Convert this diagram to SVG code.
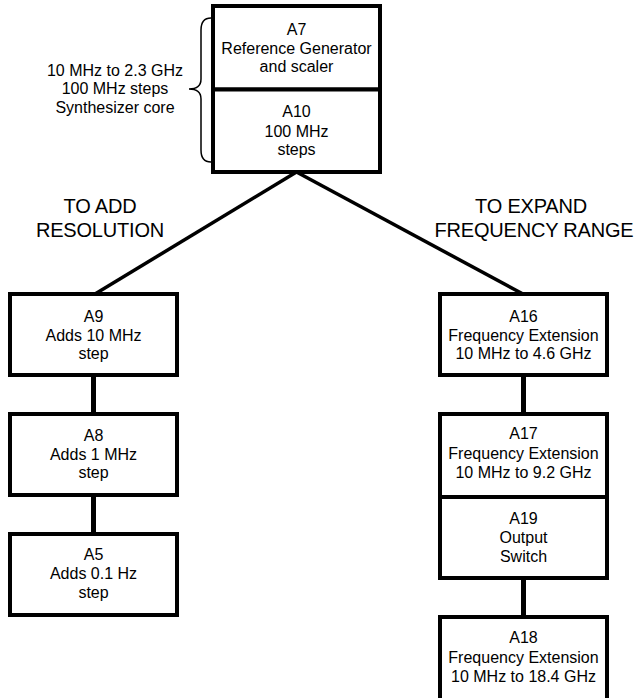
<svg xmlns="http://www.w3.org/2000/svg" width="636" height="698" viewBox="0 0 636 698">
<style>
.box{fill:#fff;stroke:#000;stroke-width:4}
.t{font-family:"Liberation Sans",Arial,sans-serif;font-size:16px;fill:#000;text-anchor:middle}
.h{font-family:"Liberation Sans",Arial,sans-serif;font-size:20px;fill:#000;text-anchor:middle;letter-spacing:-0.2px}
.diag{stroke:#000;stroke-width:3.5;fill:none}
.vert{stroke:#000;stroke-width:5;fill:none}
.brace{stroke:#000;stroke-width:1.5;fill:none}
</style>
<rect width="636" height="698" fill="#fff"/>
<g id="connectors">
<line class="diag" x1="296.5" y1="172" x2="95" y2="294"/>
<line class="diag" x1="296.5" y1="172" x2="523" y2="294"/>
<line class="vert" x1="93.5" y1="375" x2="93.5" y2="414"/>
<line class="vert" x1="93.5" y1="495" x2="93.5" y2="534"/>
<line class="vert" x1="523.5" y1="375" x2="523.5" y2="414"/>
<line class="vert" x1="523.5" y1="578" x2="523.5" y2="617"/>
</g>
<g id="core-label">
<path class="brace" d="M211 18 Q201 18 201 30 L201 79 Q201 89 189 89 Q201 89 201 99 L201 150 Q201 162 211 162"/>
<text class="t" x="115" y="76">10 MHz to 2.3 GHz</text>
<text class="t" x="115" y="94">100 MHz steps</text>
<text class="t" x="115" y="113">Synthesizer core</text>
</g>
<g id="A7">
<rect class="box" x="213" y="6" width="167" height="83.5"/>
<text class="t" x="296.5" y="35">A7</text>
<text class="t" x="296.5" y="54">Reference Generator</text>
<text class="t" x="296.5" y="72">and scaler</text>
</g>
<g id="A10">
<rect class="box" x="213" y="89.5" width="167" height="82.5"/>
<text class="t" x="296.5" y="117">A10</text>
<text class="t" x="296.5" y="137">100 MHz</text>
<text class="t" x="296.5" y="155">steps</text>
</g>
<g id="label-resolution">
<text class="h" x="100" y="213">TO ADD</text>
<text class="h" x="100" y="237">RESOLUTION</text>
</g>
<g id="label-range">
<text class="h" x="531" y="213">TO EXPAND</text>
<text class="h" x="534" y="237">FREQUENCY RANGE</text>
</g>
<g id="A9">
<rect class="box" x="10" y="294" width="167" height="81"/>
<text class="t" x="93.5" y="322">A9</text>
<text class="t" x="93.5" y="341">Adds 10 MHz</text>
<text class="t" x="93.5" y="359">step</text>
</g>
<g id="A8">
<rect class="box" x="10" y="414" width="167" height="81"/>
<text class="t" x="93.5" y="441">A8</text>
<text class="t" x="93.5" y="460">Adds 1 MHz</text>
<text class="t" x="93.5" y="478">step</text>
</g>
<g id="A5">
<rect class="box" x="10" y="534" width="167" height="81"/>
<text class="t" x="93.5" y="560">A5</text>
<text class="t" x="93.5" y="579">Adds 0.1 Hz</text>
<text class="t" x="93.5" y="598">step</text>
</g>
<g id="A16">
<rect class="box" x="440" y="294" width="167" height="81"/>
<text class="t" x="523.5" y="322">A16</text>
<text class="t" x="523.5" y="341">Frequency Extension</text>
<text class="t" x="523.5" y="359">10 MHz to 4.6 GHz</text>
</g>
<g id="A17">
<rect class="box" x="440" y="414" width="167" height="83"/>
<text class="t" x="523.5" y="439">A17</text>
<text class="t" x="523.5" y="459">Frequency Extension</text>
<text class="t" x="523.5" y="478">10 MHz to 9.2 GHz</text>
</g>
<g id="A19">
<rect class="box" x="440" y="497" width="167" height="81"/>
<text class="t" x="523.5" y="524">A19</text>
<text class="t" x="523.5" y="543">Output</text>
<text class="t" x="523.5" y="562">Switch</text>
</g>
<g id="A18">
<rect class="box" x="440" y="617" width="167" height="95"/>
<text class="t" x="523.5" y="643">A18</text>
<text class="t" x="523.5" y="663">Frequency Extension</text>
<text class="t" x="523.5" y="682">10 MHz to 18.4 GHz</text>
</g>
</svg>
